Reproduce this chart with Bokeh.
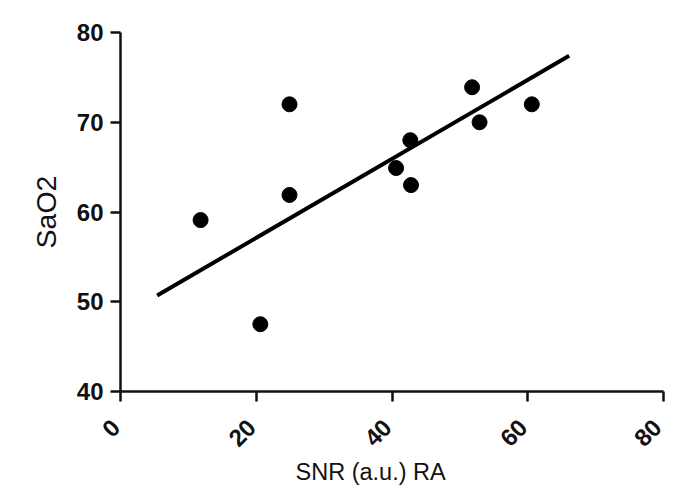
import math
from bokeh.plotting import figure
from bokeh.models import Range1d, FixedTicker, Title
from bokeh.embed import file_html
from bokeh.resources import INLINE

# data
snr = [11.8, 20.6, 24.9, 24.9, 40.6, 42.7, 42.8, 51.8, 52.9, 60.6]
sao2 = [59.1, 47.5, 72.0, 61.9, 64.9, 68.0, 63.0, 73.9, 70.0, 72.0]
fit_x = [5.4, 66.1]
fit_y = [50.7, 77.4]
x_ticks = [0, 20, 40, 60, 80]
y_ticks = [40, 50, 60, 70, 80]

FONT = "Liberation Sans"
INK = "#111111"

p = figure(width=671, height=496, output_backend="svg", toolbar_location=None,
           x_range=Range1d(0, 80), y_range=Range1d(40, 80),
           min_border_left=120, min_border_right=8, min_border_top=32, min_border_bottom=105)
p.outline_line_color = None
p.background_fill_color = "white"
p.border_fill_color = "white"
p.xgrid.visible = False
p.ygrid.visible = False

p.line(fit_x, fit_y, line_color="black", line_width=4)
p.scatter(snr, sao2, size=15, fill_color="black", line_color="black")

for ax in (p.xaxis[0], p.yaxis[0]):
    ax.axis_line_width = 2.5
    ax.axis_line_color = INK
    ax.major_tick_line_width = 2.5
    ax.major_tick_line_color = INK
    ax.major_tick_out = 10
    ax.major_tick_in = 0
    ax.minor_tick_line_color = None
    ax.major_label_text_font = FONT
    ax.major_label_text_font_size = "24px"
    ax.major_label_text_font_style = "bold"
    ax.major_label_text_color = INK

p.xaxis.ticker = FixedTicker(ticks=x_ticks)
p.yaxis.ticker = FixedTicker(ticks=y_ticks)
p.xaxis.major_label_orientation = math.pi / 4
p.xaxis.major_label_overrides = {t: f"{t}\u00a0" for t in x_ticks}
p.xaxis.major_label_standoff = 17
p.yaxis.major_label_standoff = 7

p.yaxis.axis_label = "SaO2"
p.yaxis.axis_label_text_font = FONT
p.yaxis.axis_label_text_font_size = "28.5px"
p.yaxis.axis_label_text_font_style = "normal"
p.yaxis.axis_label_text_color = INK
p.yaxis.axis_label_standoff = 12

xt = Title(text="SNR (a.u.) RA", align="left", offset=175, text_font=FONT,
           text_font_size="23.5px", text_font_style="normal", text_color=INK)
try:
    xt.standoff = -15
except Exception:
    xt.standoff = 0
p.add_layout(xt, "below")

open("out.html", "w").write(file_html(p, INLINE))
